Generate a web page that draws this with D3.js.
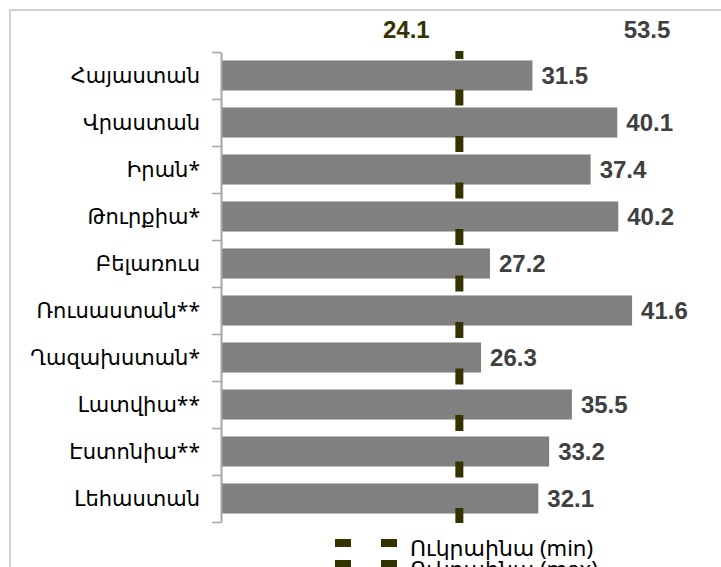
<!DOCTYPE html>
<html>
<head>
<meta charset="utf-8">
<script src="https://cdn.jsdelivr.net/npm/d3@7"></script>
<style>
  body { margin: 0; background: #fff; overflow: hidden; }
</style>
</head>
<body>
<div id="chart"></div>
<script>
// data
const countries = ['Հայաստան', 'Վրաստան', 'Իրան*', 'Թուրքիա*', 'Բելառուս',
    'Ռուսաստան**', 'Ղազախստան*', 'Լատվիա**', 'Էստոնիա**', 'Լեհաստան'];
const values = [31.5, 40.1, 37.4, 40.2, 27.2, 41.6, 26.3, 35.5, 33.2, 32.1];
const ukraineMin = 24.1;
const ukraineMax = 53.5;
const legendLabels = ['Ուկրաինա (min)', 'Ուկրաինա (max)'];

var svgwidth = 721;
var svgheight = 567;

var svg = d3.select('#chart')
    .append('svg')
    .attr('width', svgwidth)
    .attr('height', svgheight)
    .style('font-family', '"Noto Sans", "DejaVu Sans", sans-serif');

// outer frame
svg.append('path')
    .attr('d', 'M10,' + svgheight + 'V10H' + svgwidth)
    .attr('fill', 'none')
    .attr('stroke', '#d0d0d0')
    .attr('stroke-width', 2);

var xscale = d3.scaleLinear()
    .domain([0, 60])
    .range([221.5, 221.5 + 60 * 9.87]);

var yscale = d3.scaleBand()
    .domain(countries)
    .range([52, 522])
    .paddingInner(0.36)
    .paddingOuter(0.18);

// bars
svg.append('g')
    .selectAll('rect')
    .data(values)
    .join('rect')
    .attr('x', xscale(0))
    .attr('y', (d, i) => yscale(countries[i]))
    .attr('width', d => xscale(d) - xscale(0))
    .attr('height', yscale.bandwidth())
    .attr('fill', '#808080');

// category axis, ticks between categories
var boundaries = d3.scaleLinear().domain([0, countries.length]).range([52, 522]);
var yaxis = d3.axisLeft(boundaries)
    .tickValues(d3.range(countries.length + 1))
    .tickSize(9)
    .tickSizeOuter(0)
    .tickFormat('');
var axisG = svg.append('g')
    .attr('transform', 'translate(221,0)')
    .call(yaxis);
axisG.select('.domain').attr('stroke', '#a6a6a6').attr('stroke-width', 2);
axisG.selectAll('.tick line').attr('stroke', '#a6a6a6').attr('stroke-width', 1.5);

// category labels
svg.append('g')
    .selectAll('text')
    .data(countries)
    .join('text')
    .attr('x', 200)
    .attr('y', d => yscale(d) + yscale.bandwidth() / 2)
    .attr('dy', '0.36em')
    .attr('text-anchor', 'end')
    .attr('font-size', 21)
    .attr('fill', '#000')
    .text(d => d);

// value labels
svg.append('g')
    .selectAll('text')
    .data(values)
    .join('text')
    .attr('x', d => xscale(d) + 9)
    .attr('y', (d, i) => yscale(countries[i]) + yscale.bandwidth() / 2)
    .attr('dy', '0.36em')
    .attr('font-family', '"Liberation Sans", Arial, sans-serif')
    .attr('font-weight', 'bold')
    .attr('font-size', 24)
    .attr('fill', '#404040')
    .text(d => d.toFixed(1));

// Ukraine min / max lines
var refLines = [
    { v: ukraineMin, color: '#333300' },
    { v: ukraineMax, color: '#333300' }
];
svg.append('g')
    .selectAll('line')
    .data(refLines)
    .join('line')
    .attr('x1', d => xscale(d.v))
    .attr('x2', d => xscale(d.v))
    .attr('y1', 51)
    .attr('y2', 523)
    .attr('stroke', d => d.color)
    .attr('stroke-width', 8)
    .attr('stroke-dasharray', '16,30.5')
    .attr('stroke-dashoffset', 8);

// labels of the min / max lines
svg.append('text')
    .attr('x', xscale(ukraineMin) - 53)
    .attr('y', 38)
    .attr('text-anchor', 'middle')
    .attr('font-family', '"Liberation Sans Narrow", "Liberation Sans", sans-serif')
    .attr('font-weight', 'bold')
    .attr('font-size', 24)
    .attr('fill', '#333300')
    .text(ukraineMin.toFixed(1));

svg.append('text')
    .attr('x', Math.min(xscale(ukraineMax) - 53, 647))
    .attr('y', 38)
    .attr('text-anchor', 'middle')
    .attr('font-family', '"Liberation Sans Narrow", "Liberation Sans", sans-serif')
    .attr('font-weight', 'bold')
    .attr('font-size', 24)
    .attr('fill', '#404040')
    .text(ukraineMax.toFixed(1));

// legend (second row runs off the bottom edge, as in the original)
var legend = svg.append('g')
    .selectAll('g')
    .data(legendLabels)
    .join('g')
    .attr('transform', (d, i) => 'translate(335,' + (543 + i * 21) + ')');

legend.append('line')
    .attr('x1', 0)
    .attr('x2', 62)
    .attr('stroke', '#333300')
    .attr('stroke-width', 8)
    .attr('stroke-dasharray', '16,30');

legend.append('text')
    .attr('x', 75)
    .attr('y', 13)
    .attr('font-size', 22)
    .attr('fill', '#000')
    .text(d => d);
</script>
</body>
</html>
